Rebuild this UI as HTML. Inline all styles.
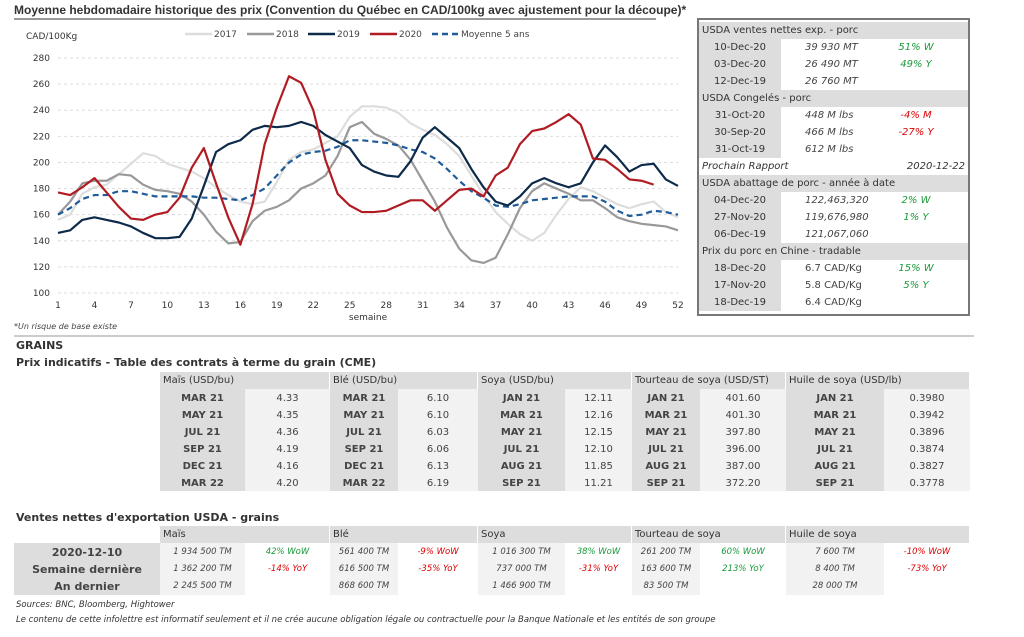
<!DOCTYPE html>
<html><head><meta charset="utf-8"><style>
body{margin:0;width:1024px;height:637px;background:#fff;font-family:"DejaVu Sans","Liberation Sans",sans-serif;position:relative;overflow:hidden;color:#333}
.a{position:absolute;white-space:nowrap}
.c{position:absolute;font-size:10px;line-height:17px;white-space:nowrap;box-sizing:border-box}
</style></head><body>
<div class="a" style="left:14px;top:3px;font-size:12px;font-weight:bold;color:#333;font-family:'Liberation Sans',sans-serif">Moyenne hebdomadaire historique des prix (Convention du Québec en CAD/100kg avec ajustement pour la découpe)*</div>
<div class="a" style="left:14px;top:18px;width:642px;height:2px;background:#999"></div>
<svg class="a" style="left:0;top:20px" width="700" height="310" id="ch"></svg>
<div class="a" style="left:14px;top:322px;font-size:8px;font-style:italic;color:#444">*Un risque de base existe</div>
<div class="a" style="left:14px;top:335px;width:960px;height:2px;background:#ccc"></div>
<div class="a" style="left:16px;top:339px;font-size:11px;font-weight:bold;color:#333">GRAINS</div>
<div class="a" style="left:16px;top:356px;font-size:11px;font-weight:bold;color:#333">Prix indicatifs - Table des contrats à terme du grain (CME)</div>
<div class="a" style="left:16px;top:511px;font-size:11px;font-weight:bold;color:#333">Ventes nettes d'exportation USDA - grains</div>
<div class="a" style="left:16px;top:600px;font-size:8.5px;font-style:italic;color:#333">Sources: BNC, Bloomberg, Hightower</div>
<div class="a" style="left:16px;top:615px;font-size:8.5px;font-style:italic;color:#333">Le contenu de cette infolettre est informatif seulement et il ne crée aucune obligation légale ou contractuelle pour la Banque Nationale et les entités de son groupe</div>
<div id="p" class="a" style="left:697px;top:18px;width:273px;height:298px;border:2px solid #777;box-sizing:border-box"></div>
<div id="t"></div>
<script>
const NS="http://www.w3.org/2000/svg",svg=document.getElementById('ch');
function el(n,a,t){const e=document.createElementNS(NS,n);for(const k in a)e.setAttribute(k,a[k]);if(t!=null)e.textContent=t;svg.appendChild(e);return e;}
const X=w=>58+(w-1)*(620/51),Y=v=>38+(280-v)*(235/180);
for(let v=100;v<=280;v+=20){el('line',{x1:58,x2:678,y1:Y(v),y2:Y(v),stroke:'#ddd','stroke-dasharray':'3,3'});el('text',{x:50,y:Y(v)+3,'text-anchor':'end','font-size':9,fill:'#333'},v);}
for(let w=1;w<=52;w+=3)el('text',{x:X(w),y:Y(100)+15,'text-anchor':'middle','font-size':9,fill:'#333'},w);
el('text',{x:368,y:Y(100)+27,'text-anchor':'middle','font-size':9,fill:'#333'},'semaine');
el('text',{x:26,y:19,'font-size':9,fill:'#333'},'CAD/100Kg');
const L=[[185,'#ddd','','2017'],[247,'#999','','2018'],[308,'#0d2a4a','','2019'],[370,'#b01c22','','2020'],[432,'#1f5c99','6,4','Moyenne 5 ans']];
L.forEach(l=>{el('line',{x1:l[0],x2:l[0]+27,y1:14,y2:14,stroke:l[1],'stroke-width':2.5,'stroke-dasharray':l[2]});el('text',{x:l[0]+29,y:17,'font-size':9,fill:'#444'},l[3]);});
const D={
a17:[156,160,176,181,183,191,199,207,205,199,196,193,188,181,175,170,168,170,185,202,208,210,215,220,235,243,243,242,238,230,225,221,214,205,190,175,162,153,145,140,146,160,172,181,178,173,168,165,168,170,162,158],
a18:[160,170,184,186,186,191,190,183,179,178,176,170,160,147,138,139,155,163,166,171,180,184,190,205,227,231,222,218,213,202,186,170,150,134,125,123,127,145,165,178,184,180,176,171,171,165,158,155,153,152,151,148],
avg:[160,165,172,175,175,178,178,176,174,174,174,174,173,173,172,171,175,180,190,200,206,208,209,212,217,217,216,215,213,210,208,203,195,186,178,173,167,166,168,171,172,173,174,174,174,170,163,159,160,163,162,160],
a19:[146,148,156,158,156,154,151,146,142,142,143,157,182,208,214,217,225,228,227,228,231,228,221,216,211,198,193,190,189,201,219,227,219,211,195,181,170,167,174,184,188,184,181,184,200,213,204,193,198,199,187,182],
a20:[177,175,181,188,177,166,157,156,160,162,173,196,211,184,158,137,168,214,242,266,261,240,202,176,167,162,162,163,167,171,171,163,171,179,180,174,190,196,214,224,226,231,237,229,203,202,195,187,186,183]};
function pl(d,c,da){el('polyline',{points:d.map((v,i)=>X(i+1)+','+Y(v)).join(' '),fill:'none',stroke:c,'stroke-width':2.2,'stroke-dasharray':da||'','stroke-linejoin':'round'});}
pl(D.a17,'#ddd');pl(D.a18,'#999');pl(D.avg,'#1f5c99','6,4');pl(D.a19,'#0d2a4a');pl(D.a20,'#b01c22');
const P=document.getElementById('p');let py=2;
function pc(x,y,w,txt,st){const d=document.createElement('div');d.className='c';d.style.cssText=`left:${x}px;top:${y}px;width:${w}px;${st||''}`;d.textContent=txt;P.appendChild(d);}
function hdr(t){pc(0,py,269,t,'background:#ddd;padding-left:3px;color:#333');py+=17;}
function rows(r){r.forEach(a=>{pc(0,py,82,a[0],'background:#ddd;text-align:center');pc(82,py,110,a[1],'padding-left:24px;font-style:'+(a[3]?'italic':'normal')+';color:#444');pc(192,py,50,a[2]||'','text-align:center;font-style:italic;color:'+(a[2]&&a[2][0]=='-'?'#d00':'#1a9a3a'));py+=17;});}
hdr('USDA ventes nettes exp. - porc');rows([['10-Dec-20','39 930  MT','51% W',1],['03-Dec-20','26 490  MT','49% Y',1],['12-Dec-19','26 760  MT','',1]]);
hdr('USDA Congelés - porc');rows([['31-Oct-20','448 M lbs','-4% M',1],['30-Sep-20','466 M lbs','-27% Y',1],['31-Oct-19','612 M lbs','',1]]);
pc(0,py,150,'Prochain Rapport','font-style:italic;padding-left:3px');pc(190,py,79,'2020-12-22','font-style:italic;text-align:right;padding-right:3px');py+=17;
hdr('USDA abattage de porc - année à date');rows([['04-Dec-20','122,463,320','2% W',1],['27-Nov-20','119,676,980','1% Y',1],['06-Dec-19','121,067,060','',1]]);
hdr('Prix du porc en Chine - tradable');rows([['18-Dec-20','6.7 CAD/Kg','15% W'],['17-Nov-20','5.8 CAD/Kg','5% Y'],['18-Dec-19','6.4 CAD/Kg','']]);
const T=document.getElementById('t');
function c(x,y,w,txt,st){const d=document.createElement('div');d.className='c';d.style.cssText=`left:${x}px;top:${y}px;width:${w}px;${st||''}`;d.textContent=txt;T.appendChild(d);}
const G=[[160,245,330,'Maïs (USD/bu)'],[330,398,478,'Blé (USD/bu)'],[478,565,632,'Soya (USD/bu)'],[632,700,786,'Tourteau de soya (USD/ST)'],[786,884,970,'Huile de soya (USD/lb)']];
const R=[['MAR 21','4.33','MAR 21','6.10','JAN 21','12.11','JAN 21','401.60','JAN 21','0.3980'],['MAY 21','4.35','MAY 21','6.10','MAR 21','12.16','MAR 21','401.30','MAR 21','0.3942'],['JUL 21','4.36','JUL 21','6.03','MAY 21','12.15','MAY 21','397.80','MAY 21','0.3896'],['SEP 21','4.19','SEP 21','6.06','JUL 21','12.10','JUL 21','396.00','JUL 21','0.3874'],['DEC 21','4.16','DEC 21','6.13','AUG 21','11.85','AUG 21','387.00','AUG 21','0.3827'],['MAR 22','4.20','MAR 22','6.19','SEP 21','11.21','SEP 21','372.20','SEP 21','0.3778']];
G.forEach((g,i)=>{c(g[0],372,g[2]-g[0],g[3],'background:#ddd;padding-left:3px;border-right:1px solid #fff');
 c(g[0],389,g[1]-g[0],'','background:#ddd;height:102px');c(g[1],389,g[2]-g[1],'','background:#f2f2f2;height:102px');
 R.forEach((r,j)=>{c(g[0],390+j*17,g[1]-g[0],r[2*i],'text-align:center;font-weight:bold;color:#444');c(g[1],390+j*17,g[2]-g[1],r[2*i+1],'text-align:center;color:#444');});});
const E=[['1 934 500 TM','42% WoW','561 400 TM','-9% WoW','1 016 300 TM','38% WoW','261 200 TM','60% WoW','7 600 TM','-10% WoW'],['1 362 200 TM','-14% YoY','616 500 TM','-35% YoY','737 000 TM','-31% YoY','163 600 TM','213% YoY','8 400 TM','-73% YoY'],['2 245 500 TM','','868 600 TM','','1 466 900 TM','','83 500 TM','','28 000 TM','']];
const N=['Maïs','Blé','Soya','Tourteau de soya','Huile de soya'];
c(14,543,146,'','background:#ddd;height:52px');
['2020-12-10','Semaine dernière','An dernier'].forEach((t,j)=>c(14,544+j*17,146,t,'text-align:center;font-weight:bold;font-size:11px;color:#444'));
G.forEach((g,i)=>{c(g[0],526,g[2]-g[0],N[i],'background:#ddd;padding-left:3px;border-right:1px solid #fff');
 c(g[0],543,g[1]-g[0],'','background:#f2f2f2;height:52px');
 E.forEach((r,j)=>{c(g[0],544+j*17,g[1]-g[0],r[2*i],'text-align:center;font-style:italic;font-size:8.5px;color:#444');c(g[1],544+j*17,g[2]-g[1],r[2*i+1],'text-align:center;font-style:italic;font-size:8.5px;color:'+(r[2*i+1][0]=='-'?'#d00':'#1a9a3a'));});});
</script>
</body></html>
